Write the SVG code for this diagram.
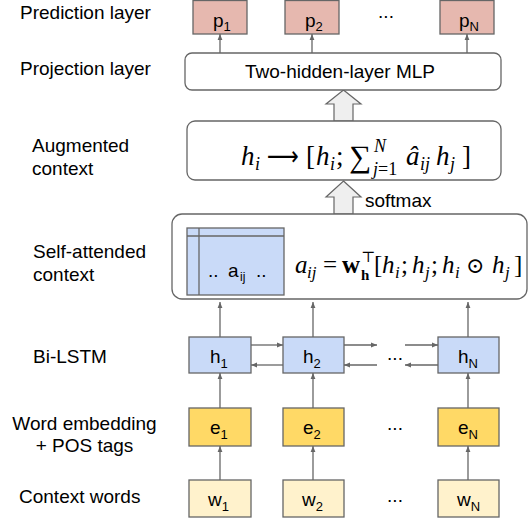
<svg xmlns="http://www.w3.org/2000/svg" width="528" height="522" viewBox="0 0 528 522">
<defs>
<style>
.lbl{font-family:"Liberation Sans",Arial,sans-serif;font-size:19px;fill:#000}
.nt{font-family:"Liberation Sans",Arial,sans-serif;font-size:19px;fill:#000}
.sb{font-size:13px}
.box{stroke:#666;stroke-width:1.3}
.p{fill:#e6b8af}.h{fill:#c9daf8}.e{fill:#ffd966}.w{fill:#fff2cc}
.rb{fill:#fff;stroke:#666;stroke-width:1.3}
.blk{fill:#efefef;stroke:#666;stroke-width:1.2}
.ar{stroke:#666;stroke-width:1.3;fill:none;marker-end:url(#ah)}
.m{font-family:"Liberation Serif","DejaVu Serif",serif;fill:#000}
.mA{font-size:27px}
.mB{font-size:25px}
.mi{font-style:italic}
.sA{font-size:18px}
.sB{font-size:17px}
</style>
<marker id="ah" viewBox="0 0 10 10" refX="10" refY="5" markerWidth="6" markerHeight="6" markerUnits="userSpaceOnUse" orient="auto">
<path d="M0,1 L10,5 L0,9 Z" fill="#666"/>
</marker>
</defs>

<g id="labels">
<text class="lbl" x="20" y="19">Prediction layer</text>
<text class="lbl" x="20" y="75">Projection layer</text>
<text class="lbl" x="32" y="152">Augmented</text>
<text class="lbl" x="32" y="175">context</text>
<text class="lbl" x="33" y="258">Self-attended</text>
<text class="lbl" x="33" y="281">context</text>
<text class="lbl" x="33" y="363">Bi-LSTM</text>
<text class="lbl" x="84.5" y="430" text-anchor="middle">Word embedding</text>
<text class="lbl" x="84.5" y="452" text-anchor="middle">+ POS tags</text>
<text class="lbl" x="19" y="503">Context words</text>
</g>

<g id="connectors">
<line class="ar" x1="220" y1="53" x2="220" y2="34"/>
<line class="ar" x1="312" y1="53" x2="312" y2="34"/>
<line class="ar" x1="467" y1="53" x2="467" y2="34"/>
<line class="ar" x1="220" y1="337" x2="220" y2="302"/>
<line class="ar" x1="313" y1="337" x2="313" y2="302"/>
<line class="ar" x1="468" y1="337" x2="468" y2="302"/>
<line class="ar" x1="220" y1="408" x2="220" y2="373"/>
<line class="ar" x1="313" y1="408" x2="313" y2="373"/>
<line class="ar" x1="468" y1="408" x2="468" y2="373"/>
<line class="ar" x1="220" y1="480" x2="220" y2="446"/>
<line class="ar" x1="313" y1="480" x2="313" y2="446"/>
<line class="ar" x1="468" y1="480" x2="468" y2="446"/>
<line class="ar" x1="251" y1="345" x2="283" y2="345"/>
<line class="ar" x1="283" y1="365" x2="251" y2="365"/>
<line class="ar" x1="344" y1="345" x2="377" y2="345"/>
<line class="ar" x1="377" y1="365" x2="344" y2="365"/>
<line class="ar" x1="405" y1="345" x2="438" y2="345"/>
<line class="ar" x1="438" y1="365" x2="405" y2="365"/>
<path id="blk1" class="blk" d="M343.5,90 L361,104 L353,104 L353,121 L334,121 L334,104 L326,104 Z"/>
<path id="blk2" class="blk" d="M343.5,181 L361,197 L353,197 L353,214 L334,214 L334,197 L326,197 Z"/>
<text class="lbl" x="365" y="207">softmax</text>
</g>

<g id="pred1"><rect class="box p" x="193" y="0.5" width="54" height="33.5"/><text class="nt" x="213" y="27">p<tspan class="sb" dy="4">1</tspan></text></g>
<g id="pred2"><rect class="box p" x="285" y="0.5" width="54" height="33.5"/><text class="nt" x="305" y="27">p<tspan class="sb" dy="4">2</tspan></text></g>
<g id="predN"><rect class="box p" x="440" y="0.5" width="54" height="33.5"/><text class="nt" x="459" y="27">p<tspan class="sb" dy="4">N</tspan></text></g>
<text class="nt" x="386" y="18" text-anchor="middle">...</text>

<g id="mlp"><rect class="rb" x="185" y="53" width="316" height="37" rx="7"/><text class="nt" x="340" y="78" text-anchor="middle">Two-hidden-layer MLP</text></g>

<g id="augmented">
<rect class="rb" x="187" y="121" width="314" height="59" rx="8"/>
<text class="m mA" y="165">
<tspan class="mi" x="241">h</tspan><tspan class="mi sA" x="255" dy="5">i</tspan>
<tspan x="267" dy="-5" font-family="DejaVu Sans" textLength="32" lengthAdjust="spacingAndGlyphs">⟶</tspan>
<tspan x="306">[</tspan><tspan class="mi" x="316">h</tspan><tspan class="mi sA" x="330" dy="5">i</tspan><tspan x="336" dy="-5">;</tspan>
<tspan x="349" dy="2" font-size="31">∑</tspan>
<tspan class="mi sA" x="374" dy="-15">N</tspan>
<tspan class="sA" x="373" dy="23"><tspan class="mi">j</tspan>=1</tspan>
<tspan class="mi" x="406" dy="-10">â</tspan><tspan class="mi sA" x="420" dy="5">ij</tspan>
<tspan class="mi" x="436" dy="-5">h</tspan><tspan class="mi sA" x="450" dy="5">j</tspan>
<tspan x="462" dy="-5">]</tspan>
</text>
</g>

<g id="selfattn">
<rect class="rb" x="172" y="214" width="355" height="85" rx="10"/>
<rect class="box h" x="187" y="228" width="97" height="67"/>
<line x1="187" y1="236" x2="284" y2="236" stroke="#666" stroke-width="1.3"/>
<line x1="199" y1="228" x2="199" y2="295" stroke="#666" stroke-width="1.3"/>
<text class="nt" y="277"><tspan x="208">..</tspan><tspan x="228">a</tspan><tspan font-size="12" x="240" dy="4">ij</tspan><tspan x="256" dy="-4">..</tspan></text>
<text class="m mB" y="273">
<tspan class="mi" x="295">a</tspan><tspan class="mi sB" x="307" dy="5">ij</tspan>
<tspan x="323" dy="-5">=</tspan>
<tspan x="342" font-weight="bold">w</tspan>
<tspan font-size="15" x="361" dy="-11">⊤</tspan>
<tspan font-size="15" x="361" dy="18" font-weight="bold">h</tspan>
<tspan x="374" dy="-7">[</tspan><tspan class="mi" x="382">h</tspan><tspan class="mi sB" x="395" dy="5">i</tspan><tspan x="401" dy="-5">;</tspan>
<tspan class="mi" x="412">h</tspan><tspan class="mi sB" x="425" dy="5">j</tspan><tspan x="431" dy="-5">;</tspan>
<tspan class="mi" x="442">h</tspan><tspan class="mi sB" x="455" dy="5">i</tspan>
<tspan x="466" dy="-5" font-size="22">⊙</tspan>
<tspan class="mi" x="492">h</tspan><tspan class="mi sB" x="505" dy="5">j</tspan>
<tspan x="514" dy="-5">]</tspan>
</text>
</g>

<g id="h1"><rect class="box h" x="189" y="337" width="62" height="36"/><text class="nt" x="210" y="363">h<tspan class="sb" dy="5">1</tspan></text></g>
<g id="h2"><rect class="box h" x="283" y="337" width="61" height="36"/><text class="nt" x="303" y="363">h<tspan class="sb" dy="5">2</tspan></text></g>
<g id="hN"><rect class="box h" x="438" y="337" width="61" height="36"/><text class="nt" x="458" y="363">h<tspan class="sb" dy="5">N</tspan></text></g>
<text class="nt" x="395" y="360" text-anchor="middle">...</text>

<g id="e1"><rect class="box e" x="189" y="408" width="62" height="38"/><text class="nt" x="210" y="434">e<tspan class="sb" dy="5">1</tspan></text></g>
<g id="e2"><rect class="box e" x="283" y="408" width="61" height="38"/><text class="nt" x="303" y="434">e<tspan class="sb" dy="5">2</tspan></text></g>
<g id="eN"><rect class="box e" x="438" y="408" width="61" height="38"/><text class="nt" x="458" y="434">e<tspan class="sb" dy="5">N</tspan></text></g>
<text class="nt" x="395" y="430" text-anchor="middle">...</text>

<g id="w1"><rect class="box w" x="189" y="480" width="62" height="37"/><text class="nt" x="208" y="506">w<tspan class="sb" dy="5">1</tspan></text></g>
<g id="w2"><rect class="box w" x="283" y="480" width="61" height="37"/><text class="nt" x="302" y="506">w<tspan class="sb" dy="5">2</tspan></text></g>
<g id="wN"><rect class="box w" x="438" y="480" width="61" height="37"/><text class="nt" x="457" y="506">w<tspan class="sb" dy="5">N</tspan></text></g>
<text class="nt" x="395" y="502" text-anchor="middle">...</text>
</svg>
